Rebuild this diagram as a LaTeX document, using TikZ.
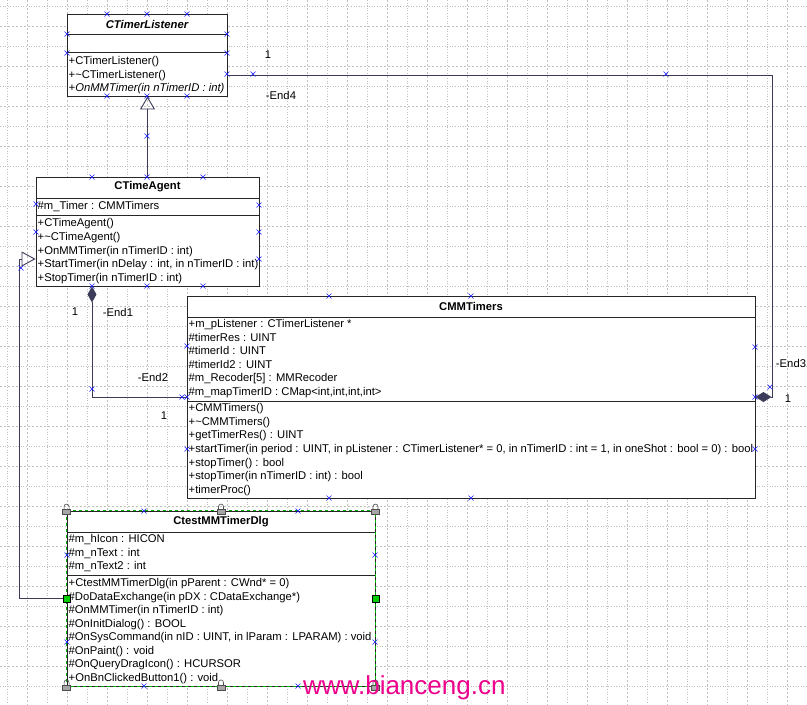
\documentclass[tikz,border=0pt]{standalone}
\usepackage{fontspec}
\setmainfont{Liberation Sans}
\usetikzlibrary{arrows.meta}

\definecolor{linecol}{RGB}{60,60,90}

\tikzset{
  cls/.style={draw=black!85, fill=white, line width=0.9pt, inner sep=0pt},
  row/.style={anchor=west, inner sep=0pt, text height=8pt, text depth=2.5pt,
              font=\fontsize{11.25}{13}\selectfont},
  head/.style={inner sep=0pt, font=\fontsize{11.25}{13}\selectfont\bfseries},
  lbl/.style={inner sep=0pt, font=\fontsize{11.25}{13}\selectfont},
  conn/.style={draw=linecol, line width=0.9pt},
  sep/.style={draw=black!85, line width=0.9pt},
  gridA/.style={draw=black!25, dotted, line width=0.6pt},
  gridB/.style={draw=black!25, dash pattern=on 2pt off 2pt, line width=0.6pt}
}

\begin{document}
\begin{tikzpicture}[x=1pt,y=-1pt]
\useasboundingbox (0,0) rectangle (807,705);
\fill[white] (0,0) rectangle (807,705);
% grid
\foreach \g in {7,47,...,807} \draw[gridA] (\g,0) -- (\g,705);
\foreach \g in {27,67,...,807} \draw[gridB] (\g,0) -- (\g,705);
\foreach \g in {6,46,...,705} \draw[gridA] (0,\g) -- (807,\g);
\foreach \g in {26,66,...,705} \draw[gridB] (0,\g) -- (807,\g);

% CTimerListener
\node[cls, minimum width=160, minimum height=82] (listener) at (147,55) {};
\node[head] (listenerT) at (147,24) {\itshape CTimerListener};
\draw[sep] (67,34) -- (227,34) (67,52) -- (227,52);
\foreach \t [count=\i from 0] in {+CTimerListener(), +\textasciitilde CTimerListener(),
                                  \itshape +OnMMTimer(in nTimerID : int)}
    \node[row] (lm\i) at (68.5,62+13.5*\i) {\t};

% CTimeAgent
\node[cls, minimum width=223, minimum height=109] (agent) at (147.5,231.5) {};
\node[head] (agentT) at (147.5,187) {CTimeAgent};
\draw[sep] (36,198) -- (259,198) (36,215) -- (259,215);
\node[row] (aa0) at (37.5,207) {\#m\_Timer : CMMTimers};
\foreach \t [count=\i from 0] in {+CTimeAgent(), +\textasciitilde CTimeAgent(),
                                  +OnMMTimer(in nTimerID : int),
                                  {+StartTimer(in nDelay : int, in nTimerID : int)},
                                  +StopTimer(in nTimerID : int)}
    \node[row] (am\i) at (37.5,224+13.7*\i) {\t};

% CMMTimers
\node[cls, minimum width=568, minimum height=202] (timers) at (471,397) {};
\node[head] (timersT) at (471,306) {CMMTimers};
\draw[sep] (187,317) -- (755,317) (187,401) -- (755,401);
\foreach \t [count=\i from 0] in {+m\_pListener : CTimerListener *, \#timerRes : UINT,
                                  \#timerId : UINT, \#timerId2 : UINT,
                                  \#m\_Recoder[5] : MMRecoder,
                                  {\#m\_mapTimerID : CMap<int,int,int,int>}}
    \node[row] (ta\i) at (188.5,325+13.5*\i) {\t};
\foreach \t [count=\i from 0] in {+CMMTimers(), +\textasciitilde CMMTimers(), +getTimerRes() : UINT,
                                  {+startTimer(in period : UINT, in pListener : CTimerListener* = 0, in nTimerID : int = 1, in oneShot : bool = 0) : bool},
                                  +stopTimer() : bool, +stopTimer(in nTimerID : int) : bool,
                                  +timerProc()}
    \node[row] (tm\i) at (188.5,409+13.6*\i) {\t};

% CtestMMTimerDlg
\node[cls, minimum width=308, minimum height=175] (dlg) at (221,598.5) {};
\draw[green!70!black, dash pattern=on 3pt off 3pt, line width=0.9pt]
    (dlg.north west) rectangle (dlg.south east);
\node[head] (dlgT) at (221,522) {CtestMMTimerDlg};
\draw[sep] (67,532) -- (375,532) (67,575) -- (375,575);
\foreach \t [count=\i from 0] in {\#m\_hIcon : HICON, \#m\_nText : int, \#m\_nText2 : int}
    \node[row] (da\i) at (68.5,540+13.5*\i) {\t};
\foreach \t [count=\i from 0] in {+CtestMMTimerDlg(in pParent : CWnd* = 0),
                                  \#DoDataExchange(in pDX : CDataExchange*),
                                  \#OnMMTimer(in nTimerID : int), \#OnInitDialog() : BOOL,
                                  {\#OnSysCommand(in nID : UINT, in lParam : LPARAM) : void},
                                  \#OnPaint() : void, \#OnQueryDragIcon() : HCURSOR,
                                  +OnBnClickedButton1() : void}
    \node[row] (dm\i) at (68.5,584+13.5*\i) {\t};

% connectors
\draw[conn, -{Triangle[open, length=13pt, width=15pt]}] (agent.north) -- (agent.north |- listener.south);
\draw[conn, -{Diamond[length=16pt, width=10pt]}] (listener.east |- lm1) -- ++(545,0) |- (timers.east);
\draw[conn, {Diamond[length=16pt, width=9pt]}-] ([xshift=-55.5pt]agent.south) |- (timers.west);
\draw[conn, -{Triangle[open, length=14pt, width=15pt]}] (dlg.west) -- ++(-47,0) |- ([yshift=-27.5pt]agent.west);

\node[lbl] (m4) at (268,55) {1};
\node[lbl] (e4) at (281,95) {-End4};
\node[lbl] (e3) at (791,363) {-End3};
\node[lbl] (m3) at (788,399) {1};
\node[lbl] (m1) at (75,312) {1};
\node[lbl] (e1) at (118,312) {-End1};
\node[lbl] (e2) at (153,377) {-End2};
\node[lbl] (m2) at (164,416) {1};

% selection marks
\foreach \a in {west,east}
    \node[draw=black, fill=green!80!black, minimum size=7, inner sep=0pt] (h\a) at (dlg.\a) {};
\foreach \a in {north west, north, north east, south west, south, south east} {
    \draw[black!70, line width=0.6pt] ([xshift=-2.5pt, yshift=1pt]dlg.\a) -- ++(0,-3) arc (180:360:2.5) -- ++(0,3);
    \filldraw[fill=black!35, draw=black!70, line width=0.5pt] ([xshift=-4pt, yshift=1pt]dlg.\a) rectangle ++(8,5);
}
\foreach \x/\y in {107/14,147/14,187/14,107/96,147/96,187/96,67/34,227/34,67/53,227/53,
                   227/74,253/74,666/74,147/136,92/177,147/177,203/177,92/286,147/286,203/286,
                   36/204,259/205,36/232,259/232,259/259,21/268,92/389,182/397,187/397,770/387,
                   329/296,471/296,329/498,471/498,187/346,187/449,755/347,755/397,755/449,
                   144/511,298/511,144/686,298/686,67/555,375/555,67/642,375/642}
    \draw[blue!90!white, line width=0.6pt] (\x-2.5,\y-2.5) -- (\x+2.5,\y+2.5) (\x-2.5,\y+2.5) -- (\x+2.5,\y-2.5);

\node[anchor=base west, inner sep=0pt, text=magenta, font=\fontsize{26}{26}\selectfont] (wm) at (303,694) {www.bianceng.cn};
\end{tikzpicture}
\end{document}
